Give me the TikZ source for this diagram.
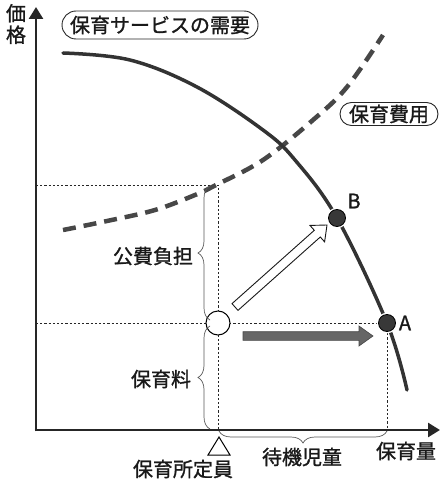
\documentclass[tikz,border=0pt]{standalone}
\usepackage{fontspec}
\setmainfont{Noto Sans CJK JP}[FakeBold=1.2]
\usetikzlibrary{arrows.meta,decorations.pathreplacing,calc}
\begin{document}
\begin{tikzpicture}[x=1pt,y=-1pt,
  lab/.style={font=\fontsize{20}{21.5}\selectfont, text=black!90, inner sep=0pt},
  oval/.style={lab, draw=black!85, line width=0.9pt, rounded corners=#1, minimum height=2*#1},
  guide/.style={black!85, line width=0.8pt, dash pattern=on 2.2pt off 2pt},
  brc/.style={decorate, decoration={brace, amplitude=12pt}, black!65, line width=0.7pt},
  axis/.style={line width=2.6pt, black!85, -{Triangle[length=12pt,width=14pt]}},
  demand/.style={line width=3.5pt, black!80, line cap=round},
  cost/.style={line width=4.5pt, black!72, dash pattern=on 13pt off 8pt},
  dot/.style={circle, fill=black!78, draw=black, line width=0.8pt, minimum size=17pt, inner sep=0pt,
    preaction={draw=white, line width=3.5pt}},
  hollow/.style={circle, fill=white, draw=black, line width=1pt, minimum size=24pt, inner sep=0pt},
]
\useasboundingbox (0,0) rectangle (444,484);
% axes
\coordinate (O) at (36,430);
\coordinate (ytop) at (36,7);
\coordinate (xend) at (440,430);
\coordinate (Oy) at (36,431.3);
\coordinate (Ox) at (34.7,430);
% guide lines
\coordinate (Ly) at (36,185);
\coordinate (C) at (218,185);
\coordinate (Cb) at (218,430);
\coordinate (Lp) at (36,323);
\coordinate (Ab) at (387,430);
\draw[guide] (Ly) -- (C) -- (Cb);
\draw[guide] (Lp) -- (387,323) -- (Ab);
\draw[axis] (Oy) -- (ytop);
\draw[axis] (Ox) -- (xend);
% cost curve (dashed)
\draw[cost] plot[smooth, tension=0.6] coordinates {(63,230) (107,221) (155,210) (195,195) (216,185) (263,160) (313,120) (347,87) (383,35)};
% demand curve
\draw[demand] plot[smooth, tension=0.6] coordinates {(63,53) (130,60) (197,87) (263,130) (295,160) (337,218) (387,323) (407,390)};
% points
\node[hollow] (P) at (218,323) {};
\node[dot] (B) at (337,218) {};
\node[dot] (A) at (387,323) {};
\node[lab] (Bl) at (354,201) {B};
\node[lab] (Al) at (405,323) {A};
% hollow arrow
\coordinate (ht) at (235,307);
\coordinate (hh) at (327,225);
\coordinate (hn) at ($(hh)!13pt!(ht)$);
\draw[fill=white, draw=black!90, line width=0.9pt, line join=miter]
  ($(ht)!4.5pt!90:(hh)$) -- ($(hn)!4.5pt!90:(hh)$) -- ($(hn)!11pt!90:(hh)$) -- (hh)
  -- ($(hn)!11pt!-90:(hh)$) -- ($(hn)!4.5pt!-90:(hh)$) -- ($(ht)!4.5pt!-90:(hh)$) -- cycle;
% gray arrow
\coordinate (gt) at (243,336);
\coordinate (gh) at (373,336);
\coordinate (gn) at ($(gh)!14pt!(gt)$);
\draw[fill=black!60, draw=black!72, line width=0.6pt, line join=miter]
  ($(gt)!4.3pt!90:(gh)$) -- ($(gn)!4.3pt!90:(gh)$) -- ($(gn)!10pt!90:(gh)$) -- (gh)
  -- ($(gn)!10pt!-90:(gh)$) -- ($(gn)!4.3pt!-90:(gh)$) -- ($(gt)!4.3pt!-90:(gh)$) -- cycle;
% braces
\coordinate (b1t) at (210,186);
\coordinate (b1b) at (210,320);
\coordinate (b2t) at (210,326);
\coordinate (b2b) at (210,429);
\coordinate (b3l) at (219,431);
\coordinate (b3r) at (387,431);
\draw[brc] (b1b) -- (b1t);
\draw[brc] (b2b) -- (b2t);
\draw[brc] (b3r) -- (b3l);
% triangle marker
\coordinate (T1) at (219,437);
\coordinate (T2) at (208,455);
\coordinate (T3) at (230,455);
\draw[fill=white, line width=1pt, line join=miter] (T1) -- (T2) -- (T3) -- cycle;
% labels
\node[lab, align=center] (price) at (16,24) {価\\格};
\node[oval=14pt, minimum width=196pt] (dem) at (160,25) {保育サービスの需要};
\node[oval=11.5pt, minimum width=98pt] (cst) at (389,114) {保育費用};
\node[lab] (kohi) at (153,256) {公費負担};
\node[lab] (fee) at (161,379) {保育料};
\node[lab] (cap) at (183,469) {保育所定員};
\node[lab] (wait) at (302,457) {待機児童};
\node[lab] (qty) at (406,451) {保育量};
\end{tikzpicture}
\end{document}
